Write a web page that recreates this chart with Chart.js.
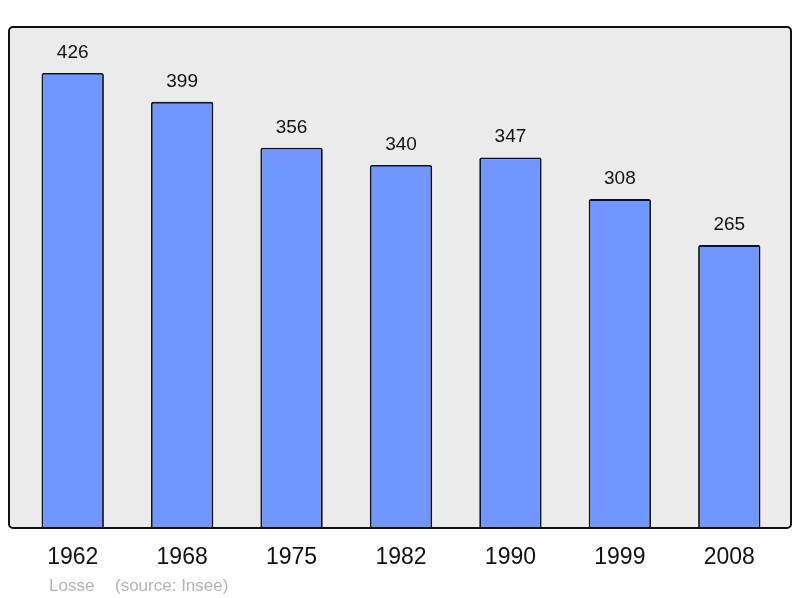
<!DOCTYPE html>
<html>
<head>
<meta charset="utf-8">
<script src="https://cdn.jsdelivr.net/npm/chart.js@4/dist/chart.umd.min.js"></script>
<style>
  html, body { margin: 0; padding: 0; background: #fff; }
  #wrap { width: 800px; height: 598px; position: relative; }
</style>
</head>
<body>
<div id="wrap"><canvas id="pop-chart"></canvas></div>
<script>
const years = ["1962", "1968", "1975", "1982", "1990", "1999", "2008"];
const population = [426, 399, 356, 340, 347, 308, 265];
const commune = "Losse";
const source = "(source: Insee)";

function framePath(ctx) {
  ctx.beginPath();
  ctx.roundRect(9, 27, 782, 501, 4);
}

// grey panel behind the bars, black frame drawn over them
const panel = {
  id: 'panel',
  beforeDraw(chart) {
    const ctx = chart.ctx;
    ctx.save();
    framePath(ctx);
    ctx.fillStyle = '#ebebeb';
    ctx.fill();
    ctx.restore();
  },
  afterDatasetsDraw(chart) {
    const ctx = chart.ctx;
    ctx.save();
    framePath(ctx);
    ctx.lineWidth = 2;
    ctx.strokeStyle = '#111';
    ctx.stroke();
    ctx.restore();
  }
};

// numbers above bars + footer line
const labels = {
  id: 'labels',
  afterDatasetsDraw(chart) {
    const ctx = chart.ctx;
    ctx.save();
    ctx.font = '19px "Liberation Sans", Arial, sans-serif';
    ctx.fillStyle = '#111';
    ctx.textAlign = 'center';
    ctx.textBaseline = 'alphabetic';
    chart.getDatasetMeta(0).data.forEach((bar, i) => {
      ctx.fillText(population[i], bar.x, bar.y - 15);
    });
    ctx.font = '17px "Liberation Sans", Arial, sans-serif';
    ctx.fillStyle = '#b4b4b4';
    ctx.textAlign = 'left';
    ctx.fillText(commune, 49, 591);
    ctx.fillText(source, 115, 591);
    ctx.restore();
  }
};

new Chart(document.getElementById("pop-chart"), {
  type: 'bar',
  data: {
    labels: years,
    datasets: [{
      data: population,
      backgroundColor: '#7097ff',
      borderColor: '#111',
      borderWidth: 1.8,
      borderRadius: 2,
      borderSkipped: 'bottom',
      barPercentage: 0.57,
      categoryPercentage: 1
    }]
  },
  options: {
    responsive: true,
    maintainAspectRatio: false,
    animation: false,
    layout: { padding: { left: 18, right: 16, top: 27, bottom: 12 } },
    plugins: {
      legend: { display: false },
      tooltip: { enabled: false }
    },
    scales: {
      x: {
        grid: { display: false, drawTicks: false },
        border: { display: false },
        ticks: {
          color: '#111',
          padding: 15,
          font: { family: '"Liberation Sans", Arial, sans-serif', size: 23 }
        }
      },
      y: {
        display: false,
        min: 0,
        max: 469
      }
    }
  },
  plugins: [panel, labels]
});
</script>
</body>
</html>
